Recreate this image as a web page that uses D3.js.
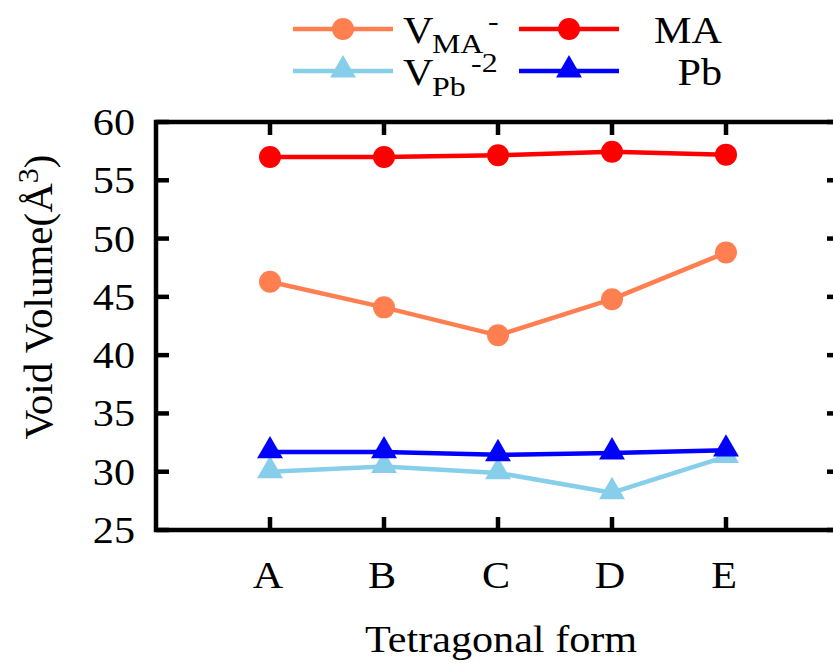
<!DOCTYPE html>
<html><head><meta charset="utf-8">
<script src="https://cdn.jsdelivr.net/npm/d3@7"></script>
<style>body{margin:0;background:#fff}svg{display:block}text{font-family:"Liberation Serif","Times New Roman",serif;fill:#000}</style>
</head><body>
<svg id="c" width="833" height="663"></svg>
<script>
const categories = ["A","B","C","D","E"];
const yTicks = [25,30,35,40,45,50,55,60];
const vMA = [46.3,44.1,41.7,44.8,48.8];
const MA = [57.0,57.0,57.15,57.45,57.2];
const vPb = [30.0,30.45,29.9,28.2,31.3];
const Pb = [31.7,31.7,31.45,31.6,31.85];

const series = [
  {name:"vMA", values:vMA, color:"#ff7f50", marker:"circle"},
  {name:"MA", values:MA, color:"#ff0000", marker:"circle"},
  {name:"vPb", values:vPb, color:"#87ceeb", marker:"triangle"},
  {name:"Pb", values:Pb, color:"#0000ff", marker:"triangle"}
];

const svg = d3.select("#c");
const L=156, R=840, T=122, B=530;
const x = d3.scaleLinear().domain([0,6]).range([L,R]);
const y = d3.scaleLinear().domain([25,60]).range([B,T]);
const tickLen = 13;
const SX = 1.14, FS = 37, FSS = 28;

function htext(px, py, anchor, size){
  return svg.append("g").attr("transform",`translate(${px},${py}) scale(${SX},1)`)
    .append("text").attr("text-anchor",anchor).attr("font-size",size);
}

const g = svg.append("g");
const line = d3.line().x((d,i)=>x(i+1)).y(d=>y(d));
const tri = d3.symbol().type(d3.symbolTriangle).size(290);
const order = [series[2], series[3], series[0], series[1]];
order.forEach(s=>{
  g.append("path").attr("d", line(s.values)).attr("fill","none")
   .attr("stroke", s.color).attr("stroke-width",4.5).attr("stroke-linejoin","round");
  s.values.forEach((v,i)=>{
    if (s.marker==="circle") g.append("circle").attr("cx",x(i+1)).attr("cy",y(v)).attr("r",11).attr("fill",s.color);
    else g.append("path").attr("d",tri).attr("transform",`translate(${x(i+1)},${y(v)-1})`).attr("fill",s.color);
  });
});

// frame
const ax = svg.append("g").attr("stroke","#000").attr("stroke-width",4.5).attr("fill","none");
ax.append("rect").attr("x",L).attr("y",T).attr("width",R-L).attr("height",B-T);
yTicks.forEach(t=>{
  ax.append("line").attr("x1",L).attr("x2",L+tickLen).attr("y1",y(t)).attr("y2",y(t));
  ax.append("line").attr("x1",R).attr("x2",R-tickLen).attr("y1",y(t)).attr("y2",y(t));
});
categories.forEach((c,i)=>{
  ax.append("line").attr("x1",x(i+1)).attr("x2",x(i+1)).attr("y1",B).attr("y2",B-tickLen);
  ax.append("line").attr("x1",x(i+1)).attr("x2",x(i+1)).attr("y1",T).attr("y2",T+tickLen);
});
// tick labels
yTicks.forEach(t=>{ htext(135, y(t)+13, "end", FS).text(t); });
categories.forEach((c,i)=>{ htext(x(i+1)-2, 588, "middle", FS).text(c); });
htext(501, 652, "middle", FS).text("Tetragonal form");
const yl = svg.append("text").attr("transform","translate(52,297) rotate(-90)").attr("text-anchor","middle").attr("font-size",41);
yl.append("tspan").text("Void Volume(Å");
yl.append("tspan").attr("dy",-14).attr("font-size",30).text("3");
yl.append("tspan").attr("dy",14).text(")");

// legend
const leg = svg.append("g");
function legLine(x0, yy, s){
  leg.append("line").attr("x1",x0).attr("x2",x0+100).attr("y1",yy).attr("y2",yy).attr("stroke",s.color).attr("stroke-width",4.5);
  if (s.marker==="circle") leg.append("circle").attr("cx",x0+50).attr("cy",yy).attr("r",11).attr("fill",s.color);
  else leg.append("path").attr("d",tri).attr("transform",`translate(${x0+50},${yy-1})`).attr("fill",s.color);
}
legLine(293,29,series[0]);
legLine(519,29,series[1]);
legLine(293,71,series[2]);
legLine(519,71,series[3]);
htext(403, 43, "start", FS).text("V");
htext(432, 53, "start", FSS).text("MA");
htext(488, 30, "start", FSS).text("-");
htext(403, 85, "start", FS).text("V");
htext(432, 96, "start", FSS).text("Pb");
htext(471, 72, "start", FSS).text("-2");
htext(722, 43, "end", FS).text("MA");
htext(722, 85, "end", FS).text("Pb");
</script>
</body></html>
